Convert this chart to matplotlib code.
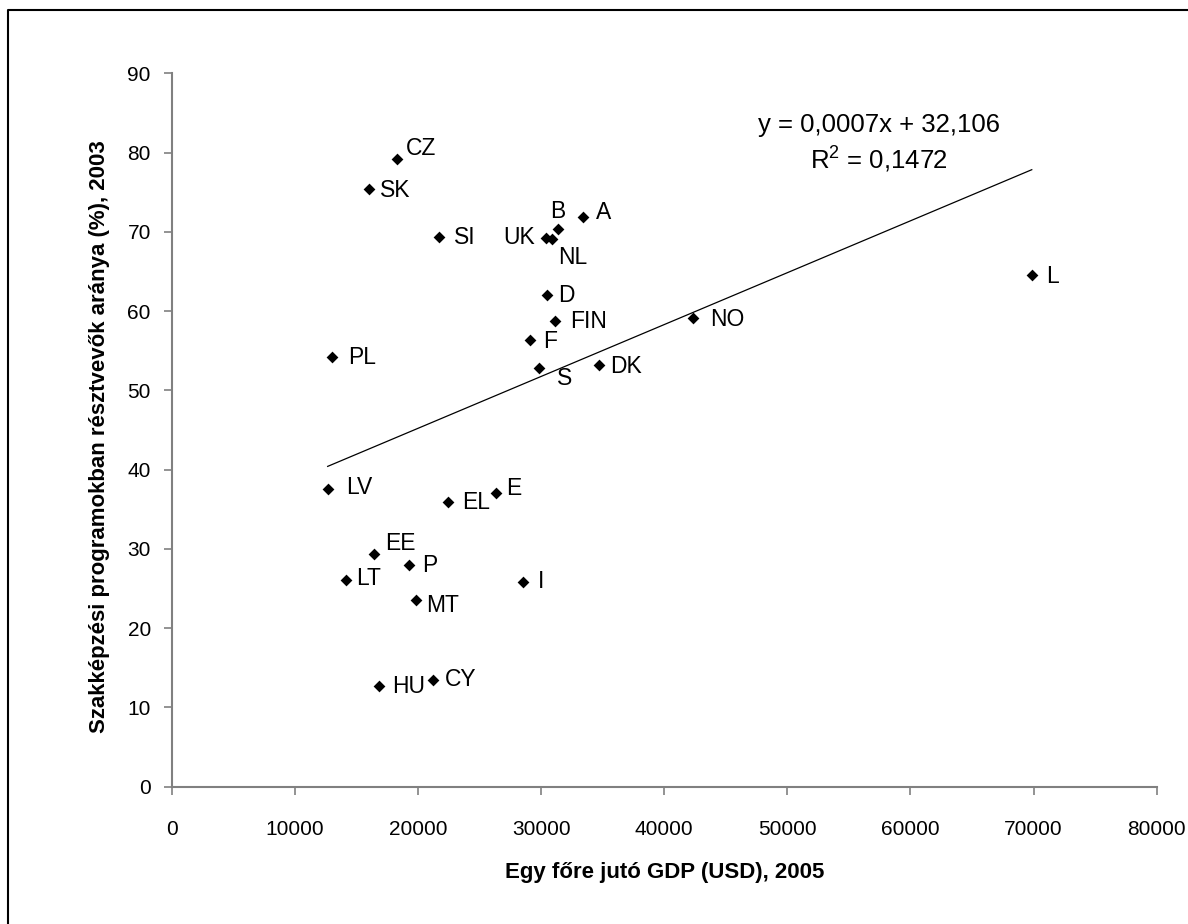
import numpy as np
import matplotlib
matplotlib.use("Agg")
import matplotlib.pyplot as plt
from matplotlib.lines import Line2D

# országkódok, GDP/fő (USD, 2005), szakképzésben résztvevők aránya (%, 2003)
countries = ["CZ", "SK", "SI", "B", "A", "UK", "NL", "D", "FIN", "F", "PL", "S", "DK",
             "NO", "LV", "EL", "E", "EE", "P", "LT", "MT", "I", "HU", "CY", "L"]
gdp = [18300, 16050, 21730, 31350, 33430, 30400, 30860, 30500, 31150, 29100, 13000, 29800, 34700,
       42360, 12670, 22420, 26340, 16400, 19300, 14130, 19820, 28560, 16860, 21250, 69850]
share = [79.2, 75.4, 69.4, 70.4, 71.9, 69.2, 69.05, 62.0, 58.8, 56.35, 54.2, 52.8, 53.2,
         59.1, 37.6, 35.9, 37.1, 29.3, 28.0, 26.1, 23.55, 25.8, 12.7, 13.5, 64.55]

x_ticks = [0, 10000, 20000, 30000, 40000, 50000, 60000, 70000, 80000]
y_ticks = [0, 10, 20, 30, 40, 50, 60, 70, 80, 90]

eq_text = "y = 0,0007x + 32,106"
r2_text = "R$^2$ = 0,1472"

# címke eltolás pixelben (dx, dy, ha)
label_pos = {
    "CZ": (9, 10, "left"), "SK": (11, -1, "left"), "SI": (15, -1, "left"),
    "B": (0, 17, "center"), "A": (13, 4, "left"), "UK": (-11, 1, "right"),
    "NL": (6, -18, "left"), "D": (11, 0, "left"), "FIN": (15, -1, "left"),
    "F": (13, -1, "left"), "PL": (16, 0, "left"), "S": (18, -10, "left"),
    "DK": (11, -2, "left"), "NO": (17, -1, "left"), "LV": (18, 1, "left"),
    "EL": (14, 0, "left"), "E": (10, 4, "left"), "EE": (12, 11, "left"),
    "P": (13, -1, "left"), "LT": (10, 1, "left"), "MT": (10, -5, "left"),
    "I": (15, 1, "left"), "HU": (13, 0, "left"), "CY": (12, 0, "left"),
    "L": (14, -1, "left"),
}

font = ["Liberation Sans", "DejaVu Sans"]
plt.rcParams['font.family'] = font
plt.rcParams['mathtext.fontset'] = 'custom'
plt.rcParams['mathtext.rm'] = 'Liberation Sans'

fig = plt.figure(figsize=(11.88, 9.24), dpi=100)
ax = fig.add_axes([0.1445, 0.1486, 0.8292, 0.7721])

ax.scatter(gdp, share, marker="D", s=6**2, color="black", zorder=3, linewidths=0)

# lineáris trendvonal
coef = np.polyfit(gdp, share, 1)
xs = np.array([min(gdp), max(gdp)])
ax.plot(xs, np.polyval(coef, xs), color="black", lw=0.9, zorder=2)

for c, xv, yv in zip(countries, gdp, share):
    dx, dy, ha = label_pos[c]
    ax.annotate(c, (xv, yv), xytext=(dx, dy), textcoords="offset pixels",
                ha=ha, va="center", fontsize=16.5)

fig.text(879/1188, 1-125/924, eq_text, ha="center", va="center", fontsize=18.5)
fig.text(879/1188, 1-159/924, r2_text, ha="center", va="center", fontsize=18.5)

ax.set_xlim(0, 80000)
ax.set_ylim(0, 90)
ax.set_xticks(x_ticks)
ax.set_yticks(y_ticks)
ax.set_xticklabels([str(v) for v in x_ticks], fontsize=15)
ax.set_yticklabels([str(v) for v in y_ticks], fontsize=15)

for s in ["top", "right"]:
    ax.spines[s].set_visible(False)
for s in ["left", "bottom"]:
    ax.spines[s].set_color("#808080")
    ax.spines[s].set_linewidth(1.5)
ax.tick_params(axis="x", direction="out", length=6, width=1.2, color="#808080", pad=18)
ax.tick_params(axis="y", direction="out", length=6, width=1.2, color="#808080", pad=9)

ax.set_xlabel("Egy főre jutó GDP (USD), 2005", fontsize=16, fontweight="bold")
ax.set_ylabel("Szakképzési programokban résztvevők aránya (%), 2003",
              fontsize=16, fontweight="bold")
ax.xaxis.set_label_coords(0.5, -0.1055)
ax.yaxis.set_label_coords(-0.0626, 0.49)

# keret (csak a bal és felső széle látszik)
fig.add_artist(Line2D([8/1188, 8/1188, 1.0], [0.0, 1-10/924, 1-10/924],
                      transform=fig.transFigure, color="black", lw=1.5))

fig.savefig("out.png", dpi=100)
